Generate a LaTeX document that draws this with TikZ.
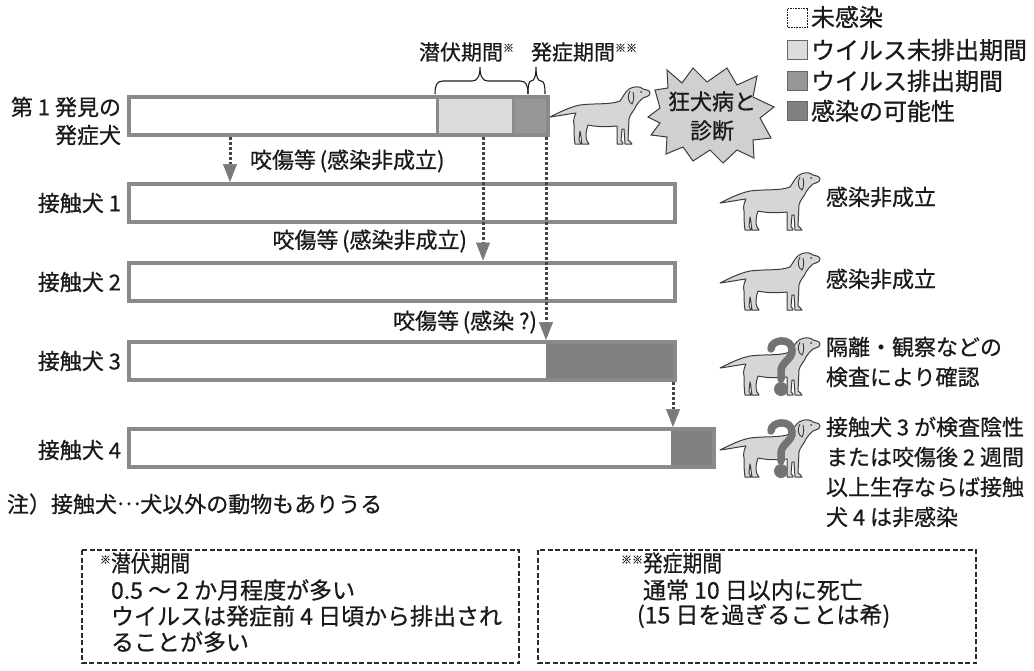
\documentclass[tikz,border=0pt]{standalone}
\usepackage{fontspec}
\setmainfont{Noto Sans CJK JP}[FakeBold=0.7]
\newfontfamily\narrowjp{Noto Sans CJK JP}[FakeStretch=0.86,FakeBold=0.7]
\usetikzlibrary{arrows.meta}

\definecolor{ink}{HTML}{1A1A1A}
\definecolor{framegray}{HTML}{8A8A8A}
\definecolor{latent}{HTML}{DCDCDC}
\definecolor{shed}{HTML}{969696}
\definecolor{risk}{HTML}{808080}
\definecolor{dogfill}{HTML}{D6D6D6}
\definecolor{dogline}{HTML}{3C3C3C}
\definecolor{burstfill}{HTML}{D0D0D0}
\definecolor{qmark}{HTML}{737373}
\definecolor{dotgray}{HTML}{444444}
\definecolor{headgray}{HTML}{7A7A7A}
\definecolor{boxline}{HTML}{2A2A2A}

\newcommand{\supmark}[1]{\smash{\raisebox{8pt}{\fontsize{11}{11}\selectfont #1}}}
\newcommand{\midellipsis}{\raisebox{0.33em}{…}}

\tikzset{
  txt/.style={inner sep=0pt, outer sep=0pt, text=ink, font=\fontsize{22}{28}\selectfont},
  bar/.style={draw=framegray, line width=4pt, inner sep=0pt, outer sep=0pt, minimum height=38pt},
  frameline/.style={draw=framegray, line width=4pt},
  divider/.style={draw=framegray, line width=3pt},
  dotline/.style={draw=dotgray, line width=3pt, dash pattern=on 2.5pt off 2.5pt},
  dotarrow/.style={dotline, shorten >=2pt, shorten <=2pt,
    -{Triangle[width=14pt,length=18pt,line width=0.6pt,color=headgray,fill=headgray]}},
  bracepath/.style={draw=ink, line width=1.1pt},
  notebox/.style={draw=boxline, line width=1.8pt, dash pattern=on 5pt off 2.5pt},
  legsq/.style={minimum width=20pt, minimum height=19pt, inner sep=0pt, outer sep=0pt,
    draw=black!60, line width=0.8pt},
  dogbody/.style={fill=dogfill, draw=dogline, line width=1pt, line join=round},
  burst/.style={fill=burstfill, draw=dogline, line width=1pt, line join=miter},
  doggy/.pic={
    \path[dogbody] (0,30) .. controls (10,25) and (20,20) .. (30,18)
      .. controls (45,16) and (60,18) .. (70,14)
      .. controls (73,10) and (75,5) .. (79,2)
      .. controls (84,-1) and (90,-1) .. (93,2)
      .. controls (96,3) and (100,3) .. (100,6)
      .. controls (100,9) and (96,10) .. (93,11)
      .. controls (90,13) and (88,16) .. (86,19)
      .. controls (84,24) and (80,27) .. (79,32)
      -- (78,53) .. controls (79,55) and (82,55) .. (82,57) -- (75,57) -- (74,42) -- (72,42)
      -- (71,54) .. controls (72,55) and (74,56) .. (73,57) -- (67,57) -- (67,39)
      .. controls (58,40) and (46,40) .. (38,38)
      .. controls (36,44) and (35,50) .. (37,54) -- (39,57) -- (32,57)
      .. controls (31,52) and (31,47) .. (30,44)
      -- (29,53) -- (31,57) -- (25,57)
      .. controls (24,50) and (24,44) .. (24,38)
      .. controls (23,34) and (24,30) .. (26,26)
      .. controls (18,27) and (8,29) .. (0,30) -- cycle;
    \draw[dogline, line width=0.9pt] (80,4) .. controls (77,9) and (78,15) .. (82,17)
      .. controls (84,14) and (84,9) .. (83,5);
    \fill[dogline] (91,5) circle (1pt);
  },
  qdoggy/.pic={
    \pic {doggy};
    \draw[qmark, line width=7.5pt, line cap=round] (51,11) .. controls (51,1) and (72,-1) .. (72,12)
      .. controls (73,21) and (61,24) .. (61,33) -- (61,41);
    \fill[qmark] (61,51) circle (7pt);
  }
}

\begin{document}
\begin{tikzpicture}[x=1pt, y=-1pt]
\useasboundingbox (0,0) rectangle (1034,670);

% ---- legend ----
\node[legsq, fill=white, draw=ink, dash pattern=on 0.8pt off 0.8pt] (k1) at (797.5,18) {};
\node[legsq, fill=latent] (k2) at (797.5,50) {};
\node[legsq, fill=shed] (k3) at (797.5,81) {};
\node[legsq, fill=risk] (k4) at (797.5,111) {};
\begin{scope}[every node/.style={txt, anchor=west, font=\fontsize{24}{28}\selectfont}]
  \node (k1t) at (811,17) {未感染};
  \node (k2t) at (811,50) {ウイルス未排出期間};
  \node (k3t) at (811,81) {ウイルス排出期間};
  \node (k4t) at (811,111) {感染の可能性};
\end{scope}

% ---- timeline bars ----
\node[bar, minimum width=419pt] (b0) at (338.5,116) {};
\node[bar, minimum width=546pt] (b1) at (402,203) {};
\node[bar, minimum width=546pt] (b2) at (402,281.5) {};
\node[bar, minimum width=546pt] (b3) at (402,361) {};
\node[bar, minimum width=585pt] (b4) at (421.5,448) {};

\coordinate (s0a) at (437,0);
\coordinate (s0b) at (513,0);
\coordinate (s3) at (546,0);
\coordinate (s4) at (671,0);

\fill[latent] (b0.north -| s0a) rectangle (b0.south -| s0b);
\fill[shed] (b0.north -| s0b) rectangle (b0.south east);
\fill[risk] (b3.north -| s3) rectangle (b3.south east);
\fill[risk] (b4.north -| s4) rectangle (b4.south east);
\draw[divider] (b0.north -| s0a) -- (b0.south -| s0a);
\draw[divider] (b0.north -| s0b) -- (b0.south -| s0b);
\foreach \b in {b0,b3,b4} \draw[frameline] (\b.south west) rectangle (\b.north east);

% ---- row labels ----
\begin{scope}[every node/.style={txt, anchor=east, align=right}]
  \node (l0) at (121,121) {第 1 発見の\\発症犬};
  \node (l1) at (121,203) {接触犬 1};
  \node (l2) at (121,282) {接触犬 2};
  \node (l3) at (121,361) {接触犬 3};
  \node (l4) at (121,450) {接触犬 4};
\end{scope}

% ---- braces over the first bar ----
\draw[bracepath] (435,94) .. controls (435,85) and (437,81) .. (443,81) -- (472,81)
  .. controls (477,81) and (480,77) .. (480,67) .. controls (480,77) and (483,81) .. (488,81)
  -- (520,81) .. controls (526,81) and (528,85) .. (528,94);
\draw[bracepath] (528,94) .. controls (528,85) and (529,81) .. (531,81)
  .. controls (534,81) and (536,77) .. (536,67) .. controls (536,77) and (538,81) .. (541,81)
  .. controls (544,81) and (545,85) .. (545,94);
\node[txt, anchor=west, font=\fontsize{21}{26}\selectfont] (lat) at (419,52) {潜伏期間\supmark{※}};
\node[txt, anchor=west, font=\fontsize{21}{26}\selectfont] (ons) at (531,52) {発症期間\supmark{※※}};

% ---- bite transmissions ----
\coordinate (xa) at (230,0);
\coordinate (xb) at (483,0);
\coordinate (xc) at (546,0);
\coordinate (xd) at (673,0);
\draw[dotarrow] (b0.south -| xa) -- (b1.north -| xa);
\draw[dotarrow] (b0.south -| xb) -- (b2.north -| xb);
\draw[dotarrow] (b0.south -| xc) -- (b3.north -| xc);
\draw[dotarrow] (b3.south -| xd) -- (b4.north -| xd);

\node[txt, anchor=west] (bt1) at (250,161) {咬傷等\,(感染非成立)};
\node[txt, anchor=east] (bt2) at (467,241) {咬傷等\,(感染非成立)};
\node[txt, anchor=east] (bt3) at (537,322) {咬傷等\,(感染 ?)};

% ---- diagnosed dog and burst ----
\pic at (550,87) {doggy};
\draw[burst] (648,117) -- (660,108) -- (655,90) -- (668,88) -- (667,70) -- (682,83)
  -- (693,68) -- (707,82) -- (727,68) -- (737,85) -- (757,76) -- (753,97) -- (774,107)
  -- (760,118) -- (771,138) -- (753,140) -- (754,158) -- (737,150) -- (723,163)
  -- (710,150) -- (693,161) -- (683,147) -- (666,154) -- (667,137) -- (651,135)
  -- (660,123) -- cycle;
\node[txt, align=center, font=\fontsize{22}{29}\selectfont] (diag) at (712,116) {狂犬病と\\診断};

% ---- outcome for each contact dog ----
\pic at (720,173) {doggy};
\pic at (720,253) {doggy};
\pic at (720,338) {qdoggy};
\pic at (720,420) {qdoggy};
\begin{scope}[every node/.style={txt, anchor=west, align=left, font=\fontsize{22}{30}\selectfont}]
  \node (o1) at (826,197) {感染非成立};
  \node (o2) at (826,279) {感染非成立};
  \node (o3) at (826,362) {隔離・観察などの\\検査により確認};
  \node (o4) at (826,472) {接触犬 3 が検査陰性\\または咬傷後 2 週間\\以上生存ならば接触\\犬 4 は非感染};
\end{scope}

% ---- footnote ----
\node[txt, anchor=west] (note) at (7,504) {注）接触犬\midellipsis 犬以外の動物もありうる};

% ---- period notes ----
\draw[notebox] (82,550) rectangle (519,663);
\draw[notebox] (538,550) rectangle (976,663);
\begin{scope}[every node/.style={txt, anchor=west, font=\fontsize{23}{28}\selectfont}]
  \node (n1h) at (111,563) {\makebox[0pt][r]{\supmark{※}}{\narrowjp 潜伏期間}};
  \node (n1a) at (111,590) {0.5 ～ 2 か月程度が多い};
  \node (n1b) at (111,616) {ウイルスは発症前 4 日頃から排出され};
  \node (n1c) at (111,642) {ることが多い};
  \node (n2h) at (643,563) {\makebox[0pt][r]{\supmark{※※}}{\narrowjp 発症期間}};
  \node (n2a) at (643,590) {通常 10 日以内に死亡};
  \node (n2b) at (637,616) {(15 日を過ぎることは希)};
\end{scope}
\end{tikzpicture}
\end{document}
